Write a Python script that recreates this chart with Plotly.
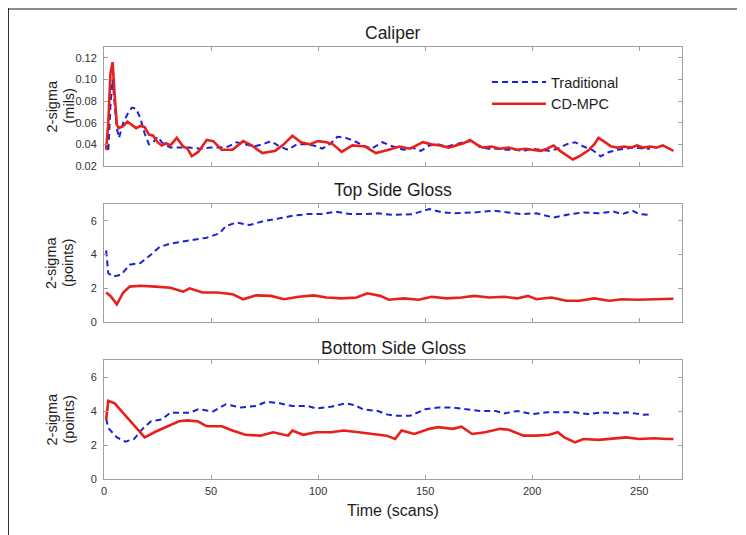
import plotly.graph_objects as go

# ---------------- data ----------------
# Caliper (mils)
cal_trad_t = [1, 2, 3, 4, 5, 6, 7, 9, 11, 13,
              15, 17, 19, 21, 23, 25, 27, 29, 31, 35,
              40, 45, 50, 54, 58, 62, 66, 70, 74, 78,
              82, 86, 90, 94, 98, 102, 106, 109, 113, 117,
              121, 125, 130, 135, 140, 144, 148, 152, 156, 160,
              164, 168, 172, 176, 180, 184, 188, 192, 196, 200,
              204, 208, 212, 216, 220, 224, 228, 232, 236, 240,
              244, 248, 252, 255]
cal_trad = [0.040, 0.033, 0.075, 0.100, 0.077, 0.055, 0.046, 0.060, 0.068, 0.074,
            0.073, 0.064, 0.050, 0.040, 0.042, 0.047, 0.042, 0.039, 0.037, 0.037,
            0.037, 0.036, 0.037, 0.037, 0.038, 0.042, 0.040, 0.038, 0.040, 0.043,
            0.038, 0.035, 0.040, 0.040, 0.039, 0.036, 0.041, 0.047, 0.046, 0.043,
            0.039, 0.036, 0.042, 0.038, 0.035, 0.037, 0.034, 0.039, 0.040, 0.038,
            0.040, 0.042, 0.043, 0.037, 0.036, 0.036, 0.035, 0.035, 0.034, 0.036,
            0.035, 0.034, 0.036, 0.040, 0.042, 0.038, 0.035, 0.029, 0.033, 0.035,
            0.036, 0.037, 0.036, 0.036]
cal_mpc_t = [1, 2, 3, 4, 5, 6, 7, 9, 11, 13,
             15, 17, 19, 21, 23, 25, 27, 29, 31, 34,
             37, 39, 41, 44, 48, 51, 55, 60, 65, 69,
             74, 80, 84, 88, 92, 96, 100, 104, 107, 111,
             116, 122, 127, 133, 138, 143, 149, 153, 157, 161,
             165, 168, 171, 174, 177, 181, 185, 189, 193, 197,
             200, 204, 207, 210, 213, 216, 219, 222, 226, 229,
             231, 234, 237, 240, 243, 246, 249, 252, 255, 258,
             261, 264, 266]
cal_mpc = [0.035, 0.060, 0.105, 0.116, 0.085, 0.058, 0.055, 0.057, 0.061, 0.058,
           0.055, 0.057, 0.056, 0.049, 0.048, 0.042, 0.039, 0.041, 0.039, 0.046,
           0.038, 0.036, 0.029, 0.033, 0.044, 0.043, 0.035, 0.035, 0.043, 0.039,
           0.032, 0.034, 0.040, 0.048, 0.042, 0.040, 0.043, 0.042, 0.040, 0.033,
           0.039, 0.038, 0.032, 0.035, 0.038, 0.036, 0.042, 0.040, 0.039, 0.037,
           0.039, 0.041, 0.044, 0.040, 0.037, 0.038, 0.036, 0.037, 0.035, 0.036,
           0.035, 0.034, 0.036, 0.039, 0.034, 0.030, 0.026, 0.029, 0.034, 0.040,
           0.046, 0.042, 0.038, 0.037, 0.038, 0.037, 0.039, 0.037, 0.038, 0.037,
           0.039, 0.036, 0.034]

# Top side gloss (points)
top_trad_t = [1, 2, 4, 8, 12, 17, 22, 26, 31, 35,
              42, 48, 54, 57, 62, 68, 75, 82, 88, 95,
              102, 108, 115, 122, 128, 135, 144, 152, 158, 164,
              173, 182, 189, 195, 202, 210, 218, 224, 231, 238,
              242, 247, 250, 255]
top_trad = [4.25, 2.9, 2.7, 2.8, 3.4, 3.5, 4.0, 4.45, 4.65, 4.75,
            4.88, 5.0, 5.26, 5.7, 5.9, 5.75, 6.0, 6.15, 6.3, 6.4,
            6.4, 6.55, 6.4, 6.4, 6.45, 6.35, 6.4, 6.7, 6.5, 6.45,
            6.5, 6.6, 6.5, 6.4, 6.45, 6.2, 6.4, 6.5, 6.45, 6.55,
            6.4, 6.6, 6.4, 6.35]
top_mpc_t = [1, 3, 6, 9, 12, 17, 24, 31, 37, 40,
             46, 53, 60, 65, 71, 78, 84, 91, 98, 104,
             111, 118, 123, 129, 133, 140, 147, 153, 160, 167,
             173, 180, 187, 193, 198, 202, 209, 216, 222, 229,
             236, 242, 249, 256, 266]
top_mpc = [1.75, 1.55, 1.05, 1.75, 2.1, 2.15, 2.1, 2.03, 1.8, 2.0,
           1.75, 1.75, 1.65, 1.35, 1.58, 1.55, 1.35, 1.5, 1.58, 1.45,
           1.4, 1.45, 1.7, 1.55, 1.32, 1.4, 1.32, 1.5, 1.4, 1.45,
           1.55, 1.45, 1.5, 1.4, 1.55, 1.35, 1.45, 1.26, 1.26, 1.4,
           1.26, 1.35, 1.32, 1.35, 1.38]

# Bottom side gloss (points)
bot_trad_t = [1, 2, 6, 10, 14, 18, 22, 27, 31, 40,
              44, 51, 57, 64, 71, 76, 82, 88, 95, 99,
              106, 113, 117, 121, 128, 132, 136, 143, 150, 156,
              163, 169, 176, 183, 187, 193, 200, 207, 213, 220,
              226, 233, 240, 244, 248, 252, 255]
bot_trad = [3.55, 3.0, 2.45, 2.2, 2.35, 2.95, 3.4, 3.5, 3.9, 3.9,
            4.1, 3.98, 4.4, 4.2, 4.3, 4.55, 4.45, 4.3, 4.3, 4.15,
            4.25, 4.45, 4.35, 4.1, 4.0, 3.8, 3.72, 3.72, 4.1, 4.2,
            4.2, 4.1, 4.0, 4.0, 3.86, 4.0, 3.82, 3.92, 3.92, 3.92,
            3.82, 3.92, 3.86, 3.92, 3.86, 3.78, 3.8]
bot_mpc_t = [1, 2, 5, 10, 15, 19, 24, 31, 35, 39,
             44, 48, 55, 60, 66, 73, 79, 86, 88, 93,
             99, 106, 112, 119, 125, 132, 136, 139, 145, 152,
             156, 163, 167, 172, 178, 185, 189, 196, 202, 208,
             212, 215, 220, 224, 231, 237, 244, 250, 257, 263,
             266]
bot_mpc = [3.5, 4.6, 4.45, 3.75, 3.0, 2.45, 2.78, 3.18, 3.4, 3.45,
           3.38, 3.1, 3.1, 2.85, 2.6, 2.55, 2.75, 2.55, 2.85, 2.6,
           2.75, 2.75, 2.85, 2.75, 2.65, 2.55, 2.35, 2.85, 2.65, 2.95,
           3.05, 2.95, 3.08, 2.65, 2.75, 2.95, 2.9, 2.55, 2.55, 2.6,
           2.75, 2.45, 2.15, 2.35, 2.3, 2.35, 2.45, 2.35, 2.4, 2.35,
           2.35]

panel_titles = ["Caliper", "Top Side Gloss", "Bottom Side Gloss"]
y_title_line1 = ["2-sigma", "2-sigma", "2-sigma"]
y_title_line2 = ["(mils)", "(points)", "(points)"]
x_title = "Time (scans)"
series_names = ["Traditional", "CD-MPC"]
x_ticks = [0, 50, 100, 150, 200, 250]
cal_ticks = [0.02, 0.04, 0.06, 0.08, 0.10, 0.12]
gloss_ticks = [0, 2, 4, 6]

# ---------------- layout geometry ----------------
W, H = 746, 535
OFF = 8  # the page body has an 8px default margin; positions below are window pixels


def fx(px):
    return (px - OFF) / W


def fy(py):
    return 1 - (py - OFF) / H


FONT = "Liberation Sans, Arial, sans-serif"
BLUE = "#1c22d2"
RED = "#e8201c"
TXT = "#1e1e1e"

x_dom = [fx(104), fx(682)]
panels_px = [(47, 166), (204, 322), (360, 479)]
y_doms = [[fy(b), fy(t)] for (t, b) in panels_px]

fig = go.Figure()

data = [
    (cal_trad_t, cal_trad, cal_mpc_t, cal_mpc),
    (top_trad_t, top_trad, top_mpc_t, top_mpc),
    (bot_trad_t, bot_trad, bot_mpc_t, bot_mpc),
]

for i, (tt, tv, mt, mv) in enumerate(data):
    xa = "x" if i == 0 else f"x{i+1}"
    ya = "y" if i == 0 else f"y{i+1}"
    fig.add_trace(go.Scatter(x=tt, y=tv, mode="lines", name=series_names[0],
                             line=dict(color=BLUE, width=2, dash="6px,4px"),
                             xaxis=xa, yaxis=ya, showlegend=(i == 0)))
    fig.add_trace(go.Scatter(x=mt, y=mv, mode="lines", name=series_names[1],
                             line=dict(color=RED, width=2.6),
                             xaxis=xa, yaxis=ya, showlegend=(i == 0)))

axis_common = dict(showline=True, linecolor="#a0a0a0", linewidth=1, mirror="ticks",
                   ticks="inside", ticklen=4, tickcolor="#a0a0a0", showgrid=False,
                   zeroline=False, automargin=False,
                   tickfont=dict(family=FONT, size=11, color="#333333"))

layout = dict(width=W, height=H, margin=dict(l=0, r=0, t=0, b=0),
              paper_bgcolor="white", plot_bgcolor="white",
              font=dict(family=FONT, color=TXT),
              showlegend=True,
              legend=dict(x=fx(487), y=fy(66), xanchor="left", yanchor="top",
                          bgcolor="rgba(0,0,0,0)", font=dict(family=FONT, size=14.5, color=TXT),
                          itemwidth=54, tracegroupgap=0))

for i in range(3):
    xk = "xaxis" if i == 0 else f"xaxis{i+1}"
    yk = "yaxis" if i == 0 else f"yaxis{i+1}"
    ya = "y" if i == 0 else f"y{i+1}"
    xa = "x" if i == 0 else f"x{i+1}"
    layout[xk] = dict(axis_common, domain=x_dom, range=[0, 270], anchor=ya,
                      tickvals=x_ticks, showticklabels=(i == 2), ticklabelstandoff=2)
    if i == 0:
        layout[yk] = dict(axis_common, domain=y_doms[i], range=[0.02, 0.13], anchor=xa,
                          tickvals=cal_ticks, tickformat=".2f", ticklabelstandoff=4)
    else:
        layout[yk] = dict(axis_common, domain=y_doms[i], range=[0, 7], anchor=xa,
                          tickvals=gloss_ticks, ticklabelstandoff=4)

fig.update_layout(**layout)

annotations = []
title_y = [33, 190, 348]
for i in range(3):
    annotations.append(dict(text=panel_titles[i], x=fx(393), y=fy(title_y[i]),
                            xref="paper", yref="paper", xanchor="center", yanchor="middle",
                            showarrow=False, font=dict(family=FONT, size=17.5, color=TXT)))
    ymid = (panels_px[i][0] + panels_px[i][1]) / 2
    annotations.append(dict(text=y_title_line1[i], x=fx(51), y=fy(ymid),
                            xref="paper", yref="paper", xanchor="center", yanchor="middle",
                            textangle=-90, showarrow=False,
                            font=dict(family=FONT, size=14.5, color=TXT)))
    annotations.append(dict(text=y_title_line2[i], x=fx(68), y=fy(ymid),
                            xref="paper", yref="paper", xanchor="center", yanchor="middle",
                            textangle=-90, showarrow=False,
                            font=dict(family=FONT, size=14.5, color=TXT)))
annotations.append(dict(text=x_title, x=fx(393), y=fy(510),
                        xref="paper", yref="paper", xanchor="center", yanchor="middle",
                        showarrow=False, font=dict(family=FONT, size=16, color=TXT)))
fig.update_layout(annotations=annotations)

# outer frame lines of the original figure image
fig.add_shape(type="line", xref="paper", yref="paper", x0=fx(8), x1=fx(737),
              y0=fy(9), y1=fy(9), line=dict(color="#8c8c8c", width=2))
fig.add_shape(type="line", xref="paper", yref="paper", x0=fx(8.5), x1=fx(8.5),
              y0=fy(8), y1=0, line=dict(color="#333333", width=1))

fig.write_html("out.html")
